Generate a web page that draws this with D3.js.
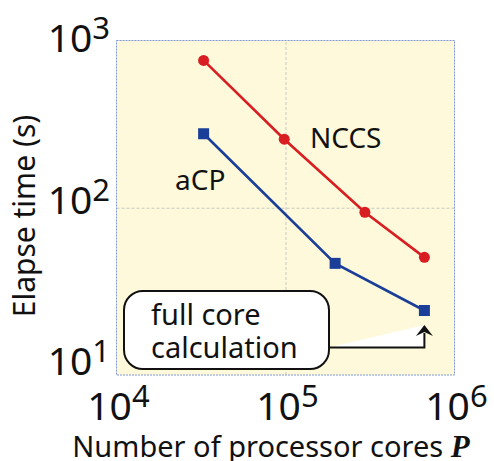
<!DOCTYPE html>
<html>
<head>
<meta charset="utf-8">
<script src="https://cdn.jsdelivr.net/npm/d3@7"></script>
<style>
  html, body { margin: 0; padding: 0; background: #ffffff; }
  svg { display: block; }
  text { font-family: "Noto Sans", "Open Sans", sans-serif; fill: #111; }
</style>
</head>
<body>
<div id="chart"></div>
<script>
// Processor core counts and elapse times (seconds)
const nccsCores = [32768, 98304, 294912, 663552];
const nccsTime  = [760, 257, 94, 50.5];
const acpCores  = [32768, 196608, 663552];
const acpTime   = [277, 46.5, 24.3];

// Axis tick values (decades)
const xTickValues = [1e4, 1e5, 1e6];
const yTickValues = [10, 100, 1000];
const seriesNames = ["NCCS", "aCP"];
const xTitle = "Number of processor cores ";
const xTitleVar = "P";
const yTitle = "Elapse time (s)";
const noteLines = ["full core", "calculation"];

const W = 494, H = 461;
const plot = { left: 116.5, right: 454.5, top: 40.5, bottom: 375 };

const svg = d3.select("#chart").append("svg")
  .attr("width", W).attr("height", H);

const x = d3.scaleLog().domain([1e4, 1e6]).range([plot.left, plot.right]);
const y = d3.scaleLog().domain([10, 1000]).range([plot.bottom, plot.top]);

// plot background
svg.append("rect")
  .attr("x", plot.left).attr("y", plot.top)
  .attr("width", plot.right - plot.left).attr("height", plot.bottom - plot.top)
  .attr("fill", "#fdf9da");

// gridlines via axes
svg.append("g")
  .attr("transform", `translate(0,${plot.bottom})`)
  .call(d3.axisBottom(x).tickValues([1e5]).tickSize(-(plot.bottom - plot.top)).tickFormat(""))
  .call(g => g.select(".domain").remove())
  .call(g => g.selectAll("line").attr("stroke", "#c9c9c4").attr("stroke-width", 1).attr("stroke-dasharray", "3,2"));

svg.append("g")
  .attr("transform", `translate(${plot.left},0)`)
  .call(d3.axisLeft(y).tickValues([100]).tickSize(-(plot.right - plot.left)).tickFormat(""))
  .call(g => g.select(".domain").remove())
  .call(g => g.selectAll("line").attr("stroke", "#c9c9c4").attr("stroke-width", 1).attr("stroke-dasharray", "3,2"));

// plot frame
svg.append("rect")
  .attr("x", plot.left).attr("y", plot.top)
  .attr("width", plot.right - plot.left).attr("height", plot.bottom - plot.top)
  .attr("fill", "none")
  .attr("stroke", "#7f96d6").attr("stroke-width", 1)
  .attr("stroke-dasharray", "2,1");

// tick labels as 10 with raised exponent
const yLabelBase = d3.scaleLog().domain([10, 1000]).range([375, 52]);
function powerLabel(sel) {
  sel.append("tspan").attr("font-size", 39).text("10");
  sel.append("tspan").attr("font-size", 31).attr("dy", -13)
    .text(d => Math.round(Math.log10(d)));
}
svg.append("g").selectAll("text").data(yTickValues).join("text")
  .attr("x", 110)
  .attr("y", d => yLabelBase(d))
  .attr("text-anchor", "end")
  .call(powerLabel);

svg.append("g").selectAll("text").data(xTickValues).join("text")
  .attr("x", d => x(d) + 2)
  .attr("y", 420)
  .attr("text-anchor", "middle")
  .call(powerLabel);

// axis titles
const xt = svg.append("text")
  .attr("x", 271).attr("y", 457)
  .attr("text-anchor", "middle")
  .attr("font-size", 29);
xt.append("tspan").text(xTitle);
xt.append("tspan")
  .attr("font-family", "'Liberation Serif', 'DejaVu Serif', serif")
  .attr("font-weight", "bold").attr("font-style", "italic")
  .attr("font-size", 31)
  .text(xTitleVar);

svg.append("text")
  .attr("transform", "translate(35,216) rotate(-90)")
  .attr("text-anchor", "middle")
  .attr("font-size", 30)
  .text(yTitle);

// series
const line = d3.line().x(d => x(d[0])).y(d => y(d[1]));
const nccs = d3.zip(nccsCores, nccsTime);
const acp = d3.zip(acpCores, acpTime);
const red = "#d81e22", blue = "#1b3f98";

svg.append("path").datum(nccs).attr("d", line)
  .attr("fill", "none").attr("stroke", red).attr("stroke-width", 2.6);
svg.append("g").selectAll("circle").data(nccs).join("circle")
  .attr("cx", d => x(d[0])).attr("cy", d => y(d[1])).attr("r", 5.5)
  .attr("fill", red);

svg.append("path").datum(acp).attr("d", line)
  .attr("fill", "none").attr("stroke", blue).attr("stroke-width", 2.6);
const sq = 11;
svg.append("g").selectAll("rect").data(acp).join("rect")
  .attr("x", d => x(d[0]) - sq / 2).attr("y", d => y(d[1]) - sq / 2)
  .attr("width", sq).attr("height", sq)
  .attr("fill", blue);

// series labels
svg.append("text").attr("x", 310).attr("y", 148).attr("font-size", 28).text(seriesNames[0]);
svg.append("text").attr("x", 175).attr("y", 190).attr("font-size", 28).text(seriesNames[1]);

// callout pointing at the full-core aCP run
const last = acp[acp.length - 1];
const ax = x(last[0]);
const box = { x: 124, y: 291, w: 205, h: 78 };
const armY = 347.5, tipY = 325;

svg.append("path")
  .attr("d", `M${box.x + box.w},${armY} L${ax},${tipY} L${ax},${armY} Z`)
  .attr("fill", "#ffffff");
svg.append("path")
  .attr("d", `M${box.x + box.w},${armY} H${ax} V${tipY + 8}`)
  .attr("fill", "none").attr("stroke", "#111").attr("stroke-width", 2);
svg.append("path")
  .attr("d", `M${ax},${tipY} L${ax + 8.5},${tipY + 11} L${ax},${tipY + 7} L${ax - 8.5},${tipY + 11} Z`)
  .attr("fill", "#111");

svg.append("rect")
  .attr("x", box.x).attr("y", box.y).attr("width", box.w).attr("height", box.h)
  .attr("rx", 19).attr("ry", 19)
  .attr("fill", "#ffffff").attr("stroke", "#111").attr("stroke-width", 2);

svg.append("g").selectAll("text").data(noteLines).join("text")
  .attr("x", 151)
  .attr("y", (d, i) => 325 + i * 33)
  .attr("font-size", 29)
  .text(d => d);
</script>
</body>
</html>
